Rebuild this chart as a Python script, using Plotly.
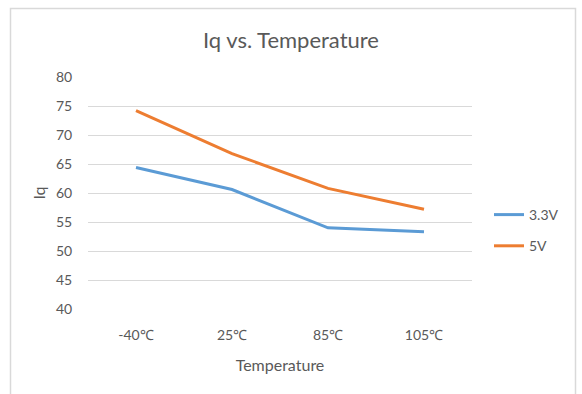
import plotly.graph_objects as go

# Quiescent current vs. temperature for two supply voltages
temperatures = ["-40℃", "25℃", "85℃", "105℃"]
iq_3v3 = [64.4, 60.6, 54.0, 53.3]
iq_5v = [74.2, 66.8, 60.8, 57.2]
y_ticks = [40, 45, 50, 55, 60, 65, 70, 75, 80]

TEXT = "#595959"
GRID = "#D9D9D9"
FONT = "Lato"

fig = go.Figure()
fig.add_trace(go.Scatter(
    x=temperatures, y=iq_3v3, name="3.3V", mode="lines",
    line=dict(color="#5B9BD5", width=3), legendgroup="a",
))
fig.add_trace(go.Scatter(
    x=temperatures, y=iq_5v, name="5V", mode="lines",
    line=dict(color="#ED7D31", width=3), legendgroup="b",
))

fig.update_layout(
    width=582, height=394,
    margin=dict(l=88, r=110, t=77, b=85),
    paper_bgcolor="white", plot_bgcolor="white",
    font=dict(family=FONT, color=TEXT, size=14),
    title=dict(text="Iq vs. Temperature", x=0.5, xanchor="center",
               y=1 - 40 / 394, yanchor="middle",
               font=dict(size=22, color=TEXT, family=FONT)),
    xaxis=dict(
        range=[-0.5, 3.5],
        showgrid=False, zeroline=False, showline=False,
        ticks="outside", ticklen=13, tickcolor="rgba(0,0,0,0)",
        tickfont=dict(size=14, color=TEXT),
        title=dict(text="Temperature", font=dict(size=16, color=TEXT), standoff=18),
    ),
    yaxis=dict(
        range=[40, 80], tickvals=y_ticks,
        showgrid=True, gridcolor=GRID, gridwidth=1, zeroline=False, showline=False,
        ticks="outside", ticklen=12, tickcolor="rgba(0,0,0,0)",
        tickfont=dict(size=14, color=TEXT),
        title=dict(text="Iq", font=dict(size=16, color=TEXT), standoff=6),
    ),
    legend=dict(
        x=(489 - 88) / 384, xanchor="left", y=(309 - 199) / 232, yanchor="top",
        font=dict(size=14, color=TEXT), traceorder="grouped", tracegroupgap=10,
        itemwidth=30, bgcolor="rgba(0,0,0,0)",
    ),
    showlegend=True,
)

# Light outer frame around the chart area
fig.add_shape(
    type="rect", xref="paper", yref="paper",
    x0=(10.5 - 88) / 384, x1=(575.5 - 88) / 384,
    y0=(309 - 420) / 232, y1=(309 - 8.5) / 232,
    line=dict(color=GRID, width=1.5), fillcolor="rgba(0,0,0,0)", layer="below",
)

fig.write_html("out.html")
